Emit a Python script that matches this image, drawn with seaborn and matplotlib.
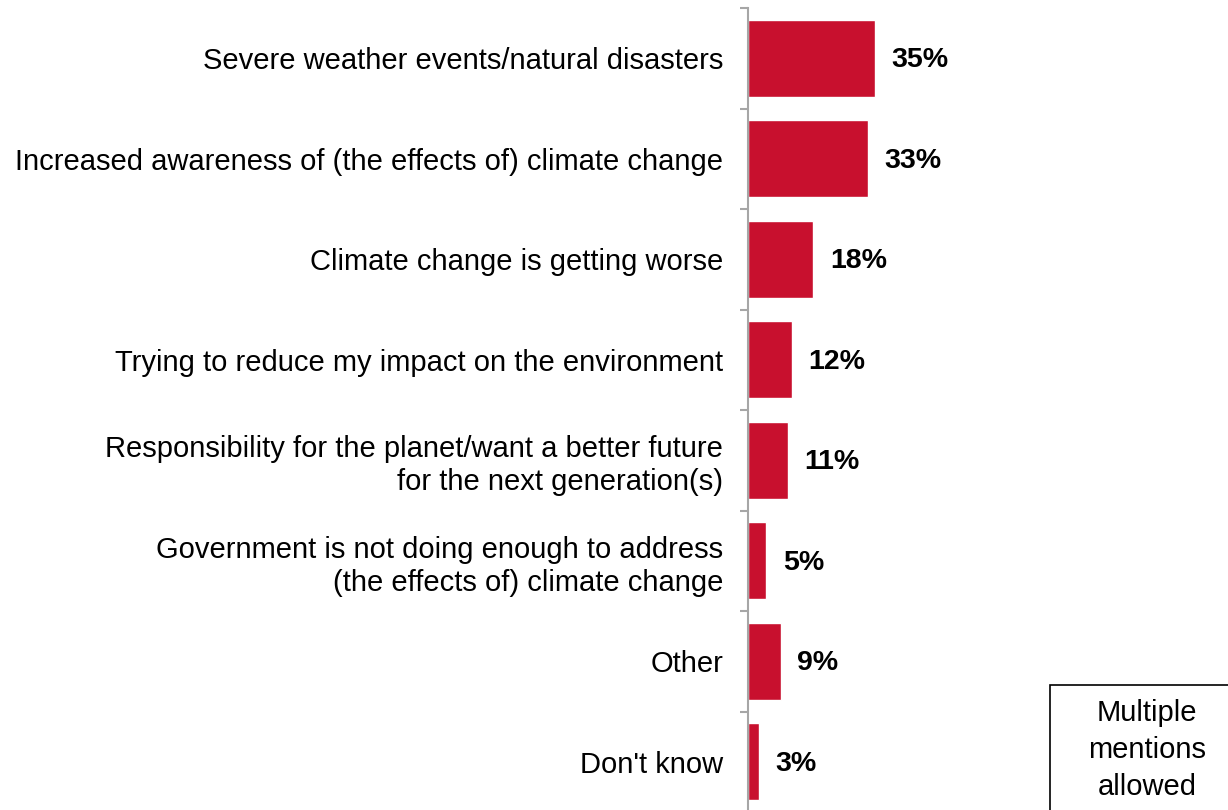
import matplotlib.pyplot as plt
from matplotlib.patches import Rectangle
import seaborn as sns
import pandas as pd
import numpy as np

reasons = [
    'Severe weather events/natural disasters',
    'Increased awareness of (the effects of) climate change',
    'Climate change is getting worse',
    'Trying to reduce my impact on the environment',
    'Responsibility for the planet/want a better future\nfor the next generation(s)',
    'Government is not doing enough to address\n(the effects of) climate change',
    'Other',
    "Don't know",
]
shares = [35, 33, 18, 12, 11, 5, 9, 3]

df = pd.DataFrame({'reason': reasons, 'share': shares})

sns.set_theme(style='white')
plt.rcParams['font.family'] = ['Liberation Sans', 'DejaVu Sans']
plt.rcParams['text.color'] = 'black'

fig = plt.figure(figsize=(12.28, 8.10), dpi=100)
W, H = 1228, 810
ax = fig.add_axes([748 / W, -2 / H, (W - 748) / W, 804 / H])

sns.barplot(data=df, x='share', y='reason', color='#C8102E', width=0.77,
            saturation=1, ax=ax)

ax.set_xlim(0, (W - 748) / 3.63)
ax.set_ylim(len(reasons) - 0.5, -0.5)
ax.set_xlabel('')
ax.set_ylabel('')
ax.set_xticks([])

for s in ['top', 'right', 'bottom']:
    ax.spines[s].set_visible(False)
ax.spines['left'].set_color('#A6A6A6')
ax.spines['left'].set_linewidth(1.5)

ax.tick_params(axis='y', which='major', length=0, pad=18, labelsize=21,
               labelcolor='black')
ax.set_yticks(np.arange(-0.5, len(reasons) + 0.5, 1), minor=True)
ax.tick_params(axis='y', which='minor', length=6, width=1.5,
               color='#A6A6A6', direction='out', left=True)
for lbl in ax.get_yticklabels():
    lbl.set_horizontalalignment('right')
    lbl.set_multialignment('right')
    lbl.set_linespacing(1.22)

for i, v in enumerate(shares):
    ax.text(v + 4.6, i + 0.02, f'{v}%', va='center', ha='left', fontsize=20.5,
            fontweight='bold', color='black')

fig.patches.append(Rectangle((1050 / W, -0.02), 0.2, 125 / H + 0.02,
                             transform=fig.transFigure, fill=False,
                             edgecolor='black', linewidth=1.2))
fig.text(1147 / W, (H - 750) / H, 'Multiple\nmentions\nallowed', ha='center',
         va='center', fontsize=21, linespacing=1.4, color='black',
         transform=fig.transFigure)

fig.savefig('out.png', dpi=100)
